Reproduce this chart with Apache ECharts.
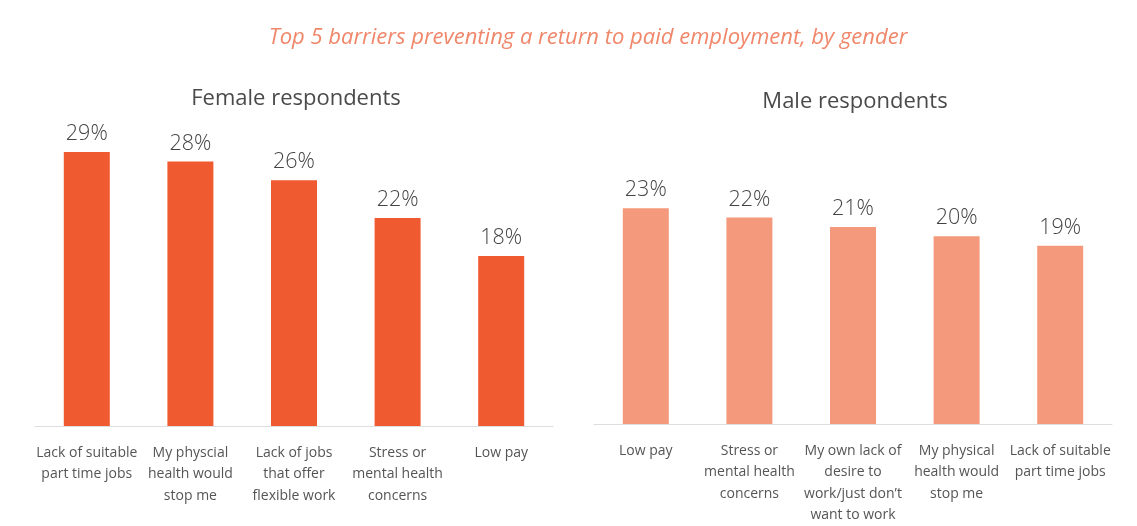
<!DOCTYPE html>
<html>
<head>
<meta charset="utf-8">
<script src="https://cdn.jsdelivr.net/npm/echarts@6/dist/echarts.min.js"></script>
<style>
  html, body { margin: 0; padding: 0; background: #ffffff; }
  #chart { width: 1137px; height: 526px; }
</style>
</head>
<body>
<div id="chart"></div>
<script>
// Barriers cited, in percent of respondents
const femaleCategories = ['Lack of suitable\npart time jobs', 'My physcial\nhealth would\nstop me', 'Lack of jobs\nthat offer\nflexible work', 'Stress or\nmental health\nconcerns', 'Low pay'];
const femaleValues = [29, 28, 26, 22, 18];
const maleCategories = ['Low pay', 'Stress or\nmental health\nconcerns', 'My own lack of\ndesire to\nwork/just don\u2019t\nwant to work', 'My physical\nhealth would\nstop me', 'Lack of suitable\npart time jobs'];
const maleValues = [23, 22, 21, 20, 19];

const FONT = '"Open Sans", "Noto Sans", sans-serif';
const chart = echarts.init(document.getElementById('chart'), null, { renderer: 'canvas' });

function xAxisFor(idx, cats) {
  return {
    type: 'category', gridIndex: idx, data: cats,
    axisLine: { show: true, lineStyle: { color: '#dddddd', width: 1 } },
    axisTick: { show: false },
    axisLabel: { interval: 0, color: '#555555', fontSize: 14, fontFamily: FONT, lineHeight: 21.5, margin: 16 }
  };
}
function yAxisFor(idx) {
  return { type: 'value', gridIndex: idx, min: 0, max: 30, show: false, splitLine: { show: false } };
}
function barSeries(idx, values, color) {
  return {
    type: 'bar', xAxisIndex: idx, yAxisIndex: idx, data: values, barWidth: 46,
    itemStyle: { color: color },
    label: { show: true, position: 'top', distance: 7, formatter: '{c}%', color: '#444444', fontSize: 21.5, fontWeight: 300, fontFamily: FONT }
  };
}

chart.setOption({
  backgroundColor: '#ffffff',
  animation: false,
  title: [
    { text: 'Top 5 barriers preventing a return to paid employment, by gender', left: 583, textAlign: 'center', top: 22,
      textStyle: { color: '#f0876a', fontSize: 22, fontStyle: 'italic', fontWeight: 'normal', fontFamily: FONT } },
    { text: 'Female respondents', left: 291, textAlign: 'center', top: 83,
      textStyle: { color: '#4a4a4a', fontSize: 22, fontWeight: 'normal', fontFamily: FONT } },
    { text: 'Male respondents', left: 850, textAlign: 'center', top: 86,
      textStyle: { color: '#4a4a4a', fontSize: 22, fontWeight: 'normal', fontFamily: FONT } }
  ],
  grid: [
    { left: 35, width: 518, top: 142.5, bottom: 100 },
    { left: 594, width: 518, top: 142.5, bottom: 100 }
  ],
  xAxis: [xAxisFor(0, femaleCategories), xAxisFor(1, maleCategories)],
  yAxis: [yAxisFor(0), yAxisFor(1)],
  series: [barSeries(0, femaleValues, '#f05a31'), barSeries(1, maleValues, '#f4997b')]
});
</script>
</body>
</html>
